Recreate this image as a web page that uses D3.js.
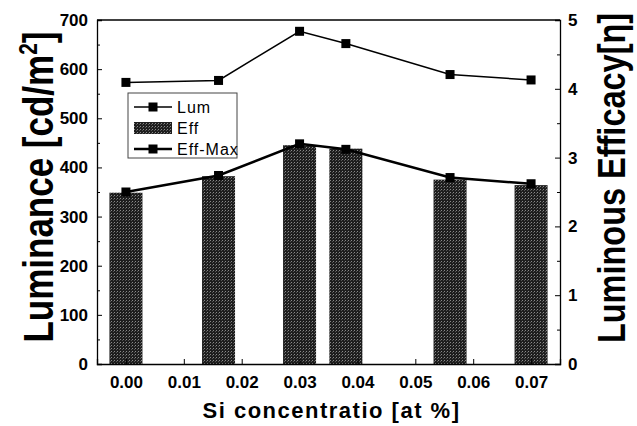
<!DOCTYPE html>
<html>
<head>
<meta charset="utf-8">
<script src="https://cdn.jsdelivr.net/npm/d3@7"></script>
<style>
  body { margin: 0; background: #fff; }
  text { font-family: "Liberation Sans", Arial, sans-serif; }
</style>
</head>
<body>
<div id="chart"></div>
<script>
/* DATA */
const siConc = [0.000, 0.016, 0.030, 0.038, 0.056, 0.070];
const luminance = [573, 577, 677, 652, 589, 578];
const efficacy = [2.49, 2.73, 3.18, 3.13, 2.68, 2.60];
const efficacyMax = [2.50, 2.74, 3.20, 3.12, 2.71, 2.62];
const xTicks = [0, 0.01, 0.02, 0.03, 0.04, 0.05, 0.06, 0.07];
const legendLabels = ["Lum", "Eff", "Eff-Max"];

/* LAYOUT */
const width = 637, height = 426;
const margin = { top: 20, right: 77, bottom: 62, left: 97 };
const barWidth = 33;

const svg = d3.select("#chart").append("svg")
  .attr("width", width)
  .attr("height", height);

// dithered fill like the scanned bars
const pat = svg.append("defs").append("pattern")
  .attr("id", "dither")
  .attr("width", 3).attr("height", 3)
  .attr("patternUnits", "userSpaceOnUse");
pat.append("rect").attr("width", 3).attr("height", 3).attr("fill", "#1e1e1e");
pat.append("rect").attr("x", 0).attr("y", 0).attr("width", 1).attr("height", 1).attr("fill", "#8a8a8a");
pat.append("rect").attr("x", 2).attr("y", 1).attr("width", 1).attr("height", 1).attr("fill", "#555");

/* SCALES */
const xScale = d3.scaleLinear()
  .domain([-0.005, 0.075])
  .range([margin.left, width - margin.right]);
const yLeft = d3.scaleLinear()
  .domain([0, 700])
  .range([height - margin.bottom, margin.top]);
const yRight = d3.scaleLinear()
  .domain([0, 5])
  .range([height - margin.bottom, margin.top]);

const x0 = margin.left, x1 = width - margin.right;
const y0 = height - margin.bottom, y1 = margin.top;

/* BARS */
svg.append("g").selectAll("rect")
  .data(siConc)
  .join("rect")
  .attr("x", (d) => xScale(d) - barWidth / 2)
  .attr("width", barWidth)
  .attr("y", (d, i) => yRight(efficacy[i]))
  .attr("height", (d, i) => yRight(0) - yRight(efficacy[i]))
  .attr("fill", "url(#dither)");

/* AXES */
const fontAxis = "bold 17px 'Liberation Sans', Arial, sans-serif";

// bottom
svg.append("g")
  .attr("transform", `translate(0,${y0})`)
  .call(d3.axisBottom(xScale).tickValues(xTicks).tickSize(-5).tickPadding(12)
    .tickFormat(d3.format(".2f")))
  .call(g => g.select(".domain").attr("stroke-width", 1.3))
  .call(g => g.selectAll("text").style("font", fontAxis).attr("fill", "#000"));

// left
svg.append("g")
  .attr("transform", `translate(${x0},0)`)
  .call(d3.axisLeft(yLeft).tickValues(d3.range(0, 701, 100)).tickSize(-5).tickPadding(9))
  .call(g => g.select(".domain").attr("stroke-width", 1.3))
  .call(g => g.selectAll("text").style("font", fontAxis).attr("fill", "#000"));
svg.append("g")
  .attr("transform", `translate(${x0},0)`)
  .call(d3.axisLeft(yLeft).tickValues(d3.range(50, 700, 100)).tickSize(-3).tickFormat(""))
  .call(g => g.select(".domain").remove());

// right
svg.append("g")
  .attr("transform", `translate(${x1},0)`)
  .call(d3.axisRight(yRight).tickValues(d3.range(0, 6, 1)).tickSize(-5).tickPadding(8)
    .tickFormat(d3.format("d")))
  .call(g => g.select(".domain").attr("stroke-width", 1.3))
  .call(g => g.selectAll("text").style("font", fontAxis).attr("fill", "#000"));
svg.append("g")
  .attr("transform", `translate(${x1},0)`)
  .call(d3.axisRight(yRight).tickValues(d3.range(0.5, 5, 1)).tickSize(-3).tickFormat(""))
  .call(g => g.select(".domain").remove());

// top frame
svg.append("line")
  .attr("x1", x0).attr("x2", x1).attr("y1", y1).attr("y2", y1)
  .attr("stroke", "#000").attr("stroke-width", 1.3);

/* LINES */
const lumLine = d3.line().x((d) => xScale(d[0])).y((d) => yLeft(d[1]));
const effLine = d3.line().x((d) => xScale(d[0])).y((d) => yRight(d[1]));

const lumPts = siConc.map((d, i) => [d, luminance[i]]);
const effPts = siConc.map((d, i) => [d, efficacyMax[i]]);

svg.append("path").datum(effPts)
  .attr("d", effLine).attr("fill", "none")
  .attr("stroke", "#000").attr("stroke-width", 2.5);
svg.append("g").selectAll("rect")
  .data(effPts).join("rect")
  .attr("x", (d) => xScale(d[0]) - 4.5).attr("y", (d) => yRight(d[1]) - 4.5)
  .attr("width", 9).attr("height", 9).attr("fill", "#000");

svg.append("path").datum(lumPts)
  .attr("d", lumLine).attr("fill", "none")
  .attr("stroke", "#000").attr("stroke-width", 1.5);
svg.append("g").selectAll("rect")
  .data(lumPts).join("rect")
  .attr("x", (d) => xScale(d[0]) - 4.5).attr("y", (d) => yLeft(d[1]) - 4.5)
  .attr("width", 9).attr("height", 9).attr("fill", "#000");

/* LEGEND */
const lg = svg.append("g").attr("transform", "translate(128,93)");
lg.append("rect")
  .attr("width", 109).attr("height", 65)
  .attr("fill", "#fff").attr("stroke", "#444").attr("stroke-width", 1);

legendLabels.forEach((lab, i) => {
  const cy = 14 + i * 21;
  if (lab === "Eff") {
    lg.append("rect").attr("x", 6).attr("y", cy - 6).attr("width", 38).attr("height", 12)
      .attr("fill", "url(#dither)");
  } else {
    lg.append("line").attr("x1", 6).attr("x2", 44).attr("y1", cy).attr("y2", cy)
      .attr("stroke", "#000").attr("stroke-width", i === 0 ? 1.5 : 2.5);
    lg.append("rect").attr("x", 20.5).attr("y", cy - 4.5).attr("width", 9).attr("height", 9)
      .attr("fill", "#000");
  }
  lg.append("text")
    .attr("x", 49).attr("y", cy + 6)
    .style("font-size", "16px")
    .style("letter-spacing", "1px")
    .text(lab);
});

/* TITLES */
svg.append("text")
  .attr("x", (x0 + x1) / 2 + 3).attr("y", 418)
  .attr("text-anchor", "middle")
  .style("font", "bold 22px 'Liberation Sans', Arial, sans-serif")
  .style("letter-spacing", "1.5px")
  .text("Si concentratio [at %]");

const leftTitle = svg.append("text")
  .attr("transform", "translate(53,187) rotate(-90) scale(1,1.2)")
  .attr("text-anchor", "middle")
  .style("font", "bold 35px 'Liberation Sans', Arial, sans-serif");
leftTitle.append("tspan").text("Luminance [cd/m");
leftTitle.append("tspan").attr("dy", -13).style("font-size", "21px").text("2");
leftTitle.append("tspan").attr("dy", 13).text("]");

svg.append("text")
  .attr("transform", "translate(625,178) rotate(-90) scale(1,1.2)")
  .attr("text-anchor", "middle")
  .style("font", "bold 32.5px 'Liberation Sans', Arial, sans-serif")
  .text("Luminous Efficacy[η]");
</script>
</body>
</html>
